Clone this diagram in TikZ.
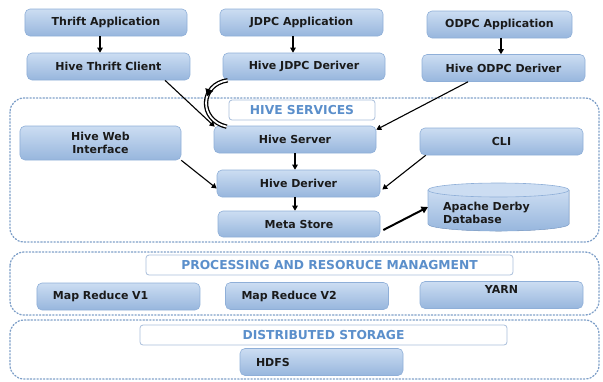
\documentclass[tikz,border=0pt]{standalone}
\usepackage{fontspec}
\setmainfont{DejaVu Sans}
\usetikzlibrary{arrows.meta,decorations.markings}
\definecolor{boxtop}{HTML}{CCDDF2}
\definecolor{boxbot}{HTML}{97B6DD}
\definecolor{boxline}{HTML}{8FAFD8}
\definecolor{dotline}{HTML}{7E9FC8}
\definecolor{labtext}{HTML}{5B8FCB}
\definecolor{labline}{HTML}{A9BFDB}
\definecolor{txt}{HTML}{1A1A1A}
\tikzset{
  box/.style={draw=boxline, line width=0.6bp, rounded corners=5bp, top color=boxtop, bottom color=boxbot,
    minimum height=27bp, font=\bfseries\fontsize{11bp}{12.5bp}\selectfont, text=txt, inner sep=2bp},
  leftbox/.style={box, text width=131bp, align=left, inner xsep=16bp},
  labbox/.style={draw=labline, line width=0.8bp, rounded corners=3bp, fill=white, minimum height=20bp,
    font=\bfseries\fontsize{12.3bp}{13bp}\selectfont, text=labtext, inner sep=1bp},
  region/.style={draw=dotline, line width=1.3bp, dotted, line cap=round, rounded corners=14bp},
  arr/.style={-{Triangle[length=5bp,width=5.5bp]}, line width=1.1bp, black},
  thickarr/.style={-{Triangle[length=6.5bp,width=7bp]}, line width=2bp, black},
}
\begin{document}
\begin{tikzpicture}[x=1bp,y=-1bp]
\useasboundingbox (0,0) rectangle (603,381);
% regions
\draw[region] (10,98) rectangle (599,242);
\draw[region] (10,252) rectangle (599,315);
\draw[region] (10,320) rectangle (599,379);
% top row
\node[box, minimum width=162bp] (ta) at (106,22.5) {Thrift Application};
\node[box, minimum width=163bp] (tc) at (108.5,66.5) {Hive Thrift Client};
\node[box, minimum width=163bp] (ja) at (301.5,22.5) {JDPC Application};
\node[box, minimum width=162bp] (jd) at (304,66.5) {Hive JDPC Deriver};
\node[box, minimum width=145bp] (oa) at (499.5,24.5) {ODPC Application};
\node[box, minimum width=163bp] (od) at (503.5,68) {Hive ODPC Deriver};
% hive services
\node[labbox, minimum width=146bp] (hsl) at (302,110) {HIVE SERVICES};
\node[box, minimum width=162bp] (hsv) at (295,139.5) {Hive Server};
\node[box, minimum width=161bp, minimum height=34bp, align=center] (hwi) at (100.5,143) {Hive Web\\Interface};
\node[box, minimum width=163bp] (cli) at (501.5,141.5) {CLI};
\node[box, minimum width=163bp] (hd) at (298.5,183.5) {Hive Deriver};
\node[box, minimum width=162bp, minimum height=26bp] (ms) at (299,224) {Meta Store};
% database cylinder
\coordinate (dbtl) at (428,190);
\coordinate (dbtr) at (569,190);
\coordinate (dbbl) at (428,224);
\coordinate (dbbr) at (569,224);
\fill[top color=boxtop, bottom color=boxbot] (dbtl) -- (dbbl) arc[start angle=180,end angle=0,x radius=70.5,y radius=7] -- (dbtr) -- cycle;
\draw[boxline, line width=0.6bp] (dbtl) -- (dbbl) arc[start angle=180,end angle=0,x radius=70.5,y radius=7] -- (dbtr);
\draw[boxline, line width=0.6bp, fill=boxtop] (498.5,190) ellipse[x radius=70.5, y radius=7];
\node[font=\bfseries\fontsize{11bp}{13bp}\selectfont, text=txt, align=left, anchor=west, inner sep=0pt] (db) at (443,213) {Apache Derby\\Database};
\coordinate (dbin) at (428,207);
% processing
\node[labbox, minimum width=367bp] (pl) at (329.5,265) {PROCESSING AND RESORUCE MANAGMENT};
\node[leftbox, minimum width=163bp] (mr1) at (118.5,296.5) {Map Reduce V1};
\node[leftbox, minimum width=162bp] (mr2) at (307,296) {Map Reduce V2\\[-2bp]};
\node[box, minimum width=163bp, align=center] (yarn) at (501.5,295) {YARN\\[-2bp]};
% storage
\node[labbox, minimum width=367bp] (dsl) at (323.5,335) {DISTRIBUTED STORAGE};
\node[leftbox, minimum width=163bp] (hdfs) at (321.5,362) {HDFS};
% arrows
\draw[arr] (ta.south -| 100,0) -- (tc.north -| 100,0);
\draw[arr] (ja.south -| 293,0) -- (jd.north -| 293,0);
\draw[arr] (oa.south -| 501,0) -- (od.north -| 501,0);
\draw[arr] (tc.south -| 165,0) -- ([xshift=1bp,yshift=-1bp]hsv.north west);
\draw[arr] (od.south -| 468,0) -- ([yshift=-4bp]hsv.north east);
\draw[line width=1.3bp, double=white, double distance=1.8bp, black,
  postaction={decorate}, decoration={markings, mark=at position 0.4 with {\arrow[black]{Triangle[length=7bp,width=8bp]}}}]
  ([xshift=5bp]jd.south west) .. controls (200,84) and (198,120) .. ([xshift=13bp,yshift=-1bp]hsv.north west);
\draw[arr] (hsv.south -| 295,0) -- (hd.north -| 295,0);
\draw[arr] (hwi.south east) -- ([yshift=-5bp]hd.west);
\draw[arr] ([xshift=6bp]cli.south west) -- ([xshift=2bp,yshift=-6bp]hd.east);
\draw[arr] (hd.south -| 295,0) -- (ms.north -| 295,0);
\draw[thickarr] ([xshift=3bp,yshift=-6bp]ms.east) -- (dbin);
\end{tikzpicture}
\end{document}
